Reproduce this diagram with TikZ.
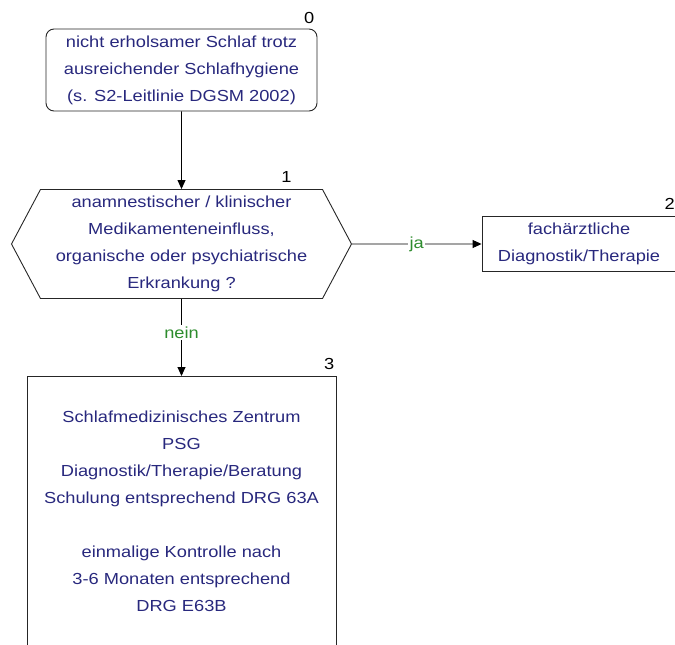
\documentclass[tikz,border=0pt]{standalone}
\usepackage{fontspec}
\setmainfont[FakeStretch=1.14]{Liberation Sans}
\usetikzlibrary{arrows.meta,shapes.symbols}
\definecolor{txtblue}{RGB}{40,40,125}
\definecolor{labgreen}{RGB}{45,140,45}

\begin{document}
\begin{tikzpicture}[x=1pt,y=-1pt,>={Triangle[length=9pt,width=8pt]},
  every node/.style={font=\fontsize{16}{27}\selectfont},
  stepbox/.style={draw=black!85,line width=0.9pt,text=txtblue,align=center},
  num/.style={anchor=south east,inner sep=0pt},
  answer/.style={text=labgreen,fill=white,inner sep=1.5pt}]
  \useasboundingbox (0,0) rectangle (675,645);
  \clip (0,0) rectangle (675,645);
  % boxes
  \node[stepbox,rounded corners=8pt,minimum width=271pt,minimum height=82pt] (start) at (181.5,70)
    {nicht erholsamer Schlaf trotz\\ausreichender Schlafhygiene\\(s. S2-Leitlinie DGSM 2002)};
  \node[stepbox,shape=signal,signal to=west and east,signal pointer angle=124,
        minimum width=340pt,minimum height=109pt,inner sep=0pt] (check) at (181.5,244)
    {anamnestischer / klinischer\\Medikamenteneinfluss,\\organische oder psychiatrische\\Erkrankung ?};
  \node[stepbox,minimum width=194pt,minimum height=55pt] (expert) at (579,244)
    {fachärztliche\\Diagnostik/Therapie};
  \node[stepbox,minimum width=309pt,minimum height=320pt,anchor=north] (center) at (181.5,376) {};
  \node[text=txtblue,align=center,anchor=north] (centertext) at ([yshift=-31pt]center.north)
    {Schlafmedizinisches Zentrum\\PSG\\Diagnostik/Therapie/Beratung\\Schulung entsprechend DRG 63A\\[27pt]
     einmalige Kontrolle nach\\3-6 Monaten entsprechend\\DRG E63B};
  % numbers
  \node[num] (num0) at ([shift={(-3,-5)}]start.north east) {0};
  \node[num] (num1) at ([shift={(-31,-6)}]check.north east) {1};
  \node[num] (num2) at ([shift={(-1.5,-6)}]expert.north east) {2};
  \node[num] (num3) at ([shift={(-2,-6)}]center.north east) {3};
  % connectors
  \draw[->,line width=0.9pt] (start) -- (check);
  \draw[->,line width=0.9pt] (check) -- node[answer] {ja} (expert);
  \draw[->,line width=0.9pt] (check.south) -- node[answer,pos=0.44] {nein} (center.north);
\end{tikzpicture}
\end{document}
